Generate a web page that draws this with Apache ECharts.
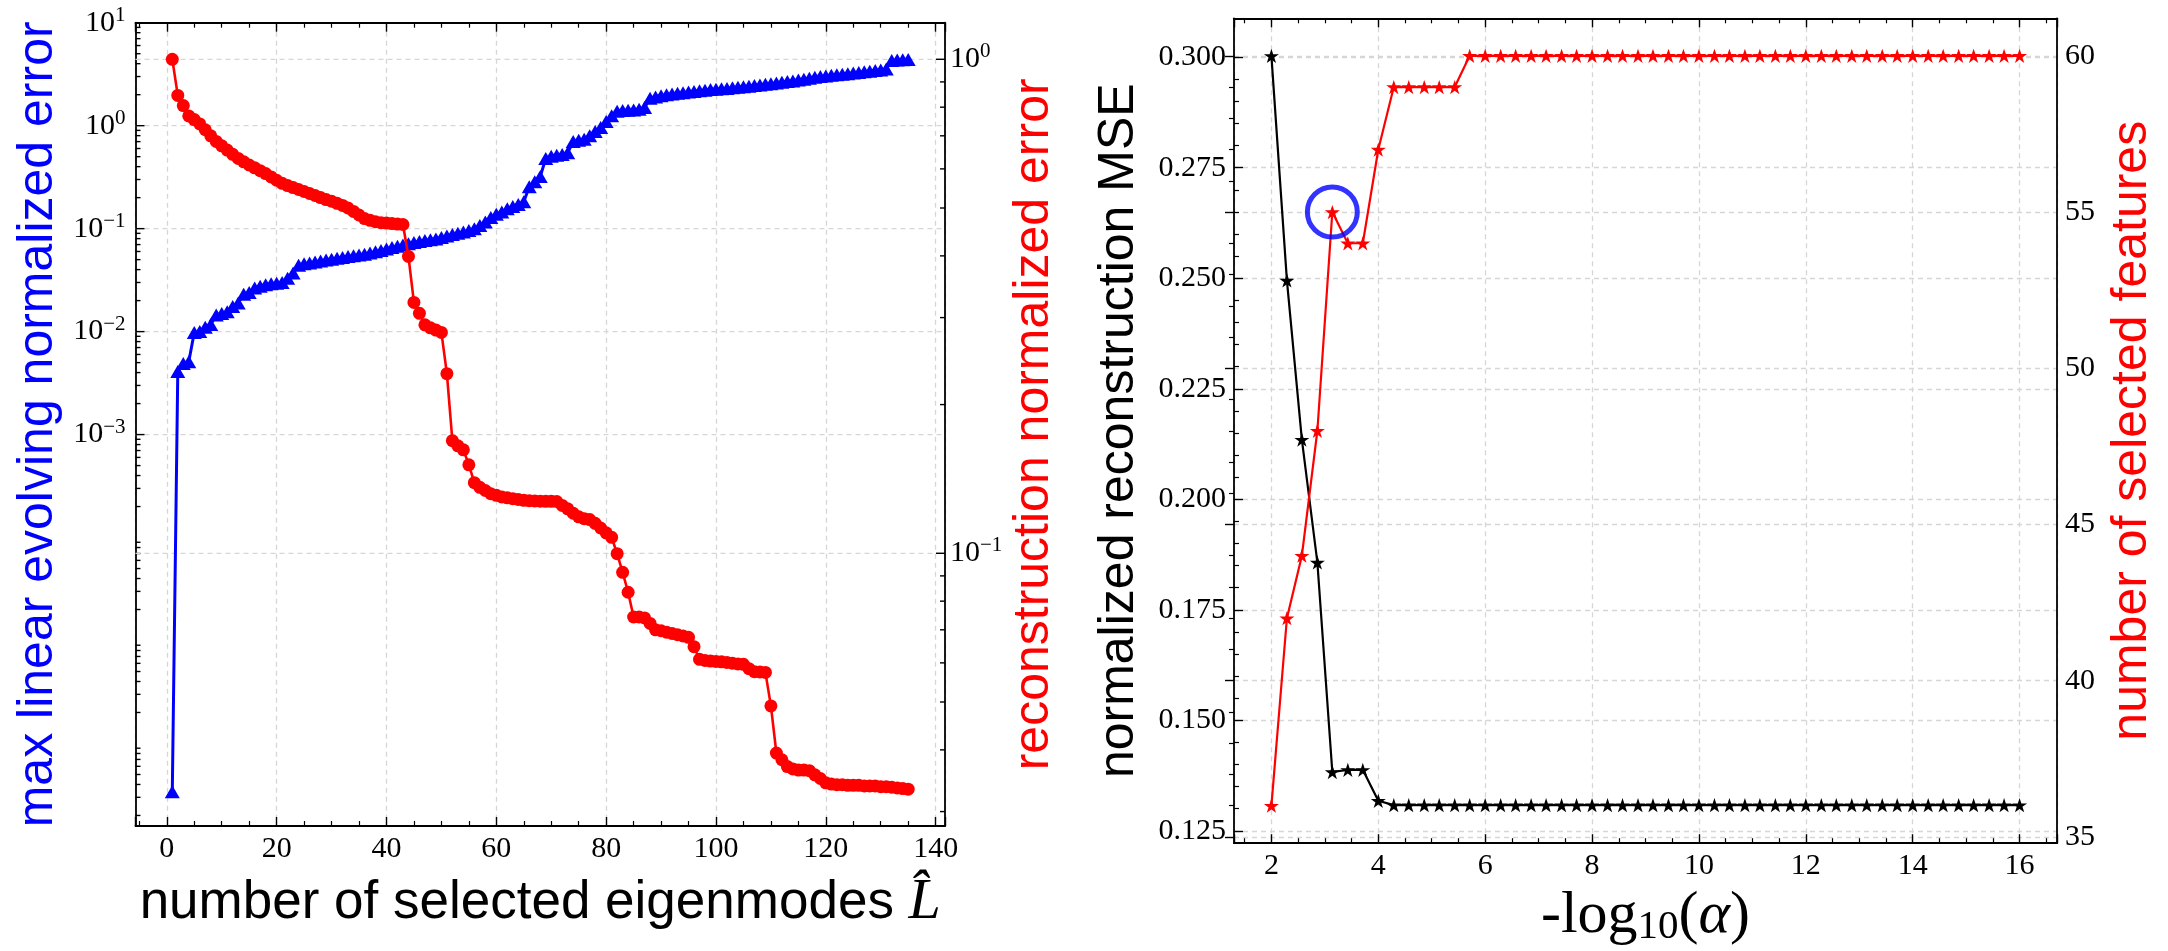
<!DOCTYPE html>
<html lang="en">
  <head>
    <meta charset="UTF-8" />
    <meta name="viewport" content="width=device-width, initial-scale=1.0" />
    <title>Eigenmode selection and feature selection</title>
    <!-- ECharts library -->
    <script src="https://cdn.jsdelivr.net/npm/echarts@6.0.0/dist/echarts.min.js"></script>
    <style>
      html, body { margin: 0; padding: 0; background: #fff; }
      #chart { width: 2168px; height: 951px; }
    </style>
  </head>
  <body>
    <div id="chart"></div>

    <script>
      // ---------- left panel: eigenmode selection ----------
      const modeCount = [
        1, 2, 3, 4, 5, 6, 7, 8, 9, 10, 11, 12, 13, 14, 15, 16, 17, 18, 19, 20,
        21, 22, 23, 24, 25, 26, 27, 28, 29, 30, 31, 32, 33, 34, 35, 36, 37, 38, 39, 40,
        41, 42, 43, 44, 45, 46, 47, 48, 49, 50, 51, 52, 53, 54, 55, 56, 57, 58, 59, 60,
        61, 62, 63, 64, 65, 66, 67, 68, 69, 70, 71, 72, 73, 74, 75, 76, 77, 78, 79, 80,
        81, 82, 83, 84, 85, 86, 87, 88, 89, 90, 91, 92, 93, 94, 95, 96, 97, 98, 99, 100,
        101, 102, 103, 104, 105, 106, 107, 108, 109, 110, 111, 112, 113, 114, 115, 116, 117, 118, 119, 120,
        121, 122, 123, 124, 125, 126, 127, 128, 129, 130, 131, 132, 133, 134, 135
      ];

      // max linear evolving normalized error (left log axis)
      const maxLinearError = [
        3.4e-7, 4.1e-3, 4.9e-3, 5.1e-3, 9.8e-3, 1.0e-2, 1.1e-2, 1.17e-2, 1.45e-2, 1.5e-2,
        1.56e-2, 1.75e-2, 1.9e-2, 2.3e-2, 2.4e-2, 2.65e-2, 2.75e-2, 2.85e-2, 2.92e-2, 2.95e-2,
        3.0e-2, 3.3e-2, 3.7e-2, 4.4e-2, 4.55e-2, 4.65e-2, 4.75e-2, 4.85e-2, 4.95e-2, 5.05e-2,
        5.15e-2, 5.25e-2, 5.35e-2, 5.45e-2, 5.55e-2, 5.65e-2, 5.8e-2, 5.95e-2, 6.15e-2, 6.35e-2,
        6.55e-2, 6.75e-2, 6.95e-2, 7.15e-2, 7.35e-2, 7.5e-2, 7.65e-2, 7.8e-2, 7.95e-2, 8.2e-2,
        8.5e-2, 8.75e-2, 9.0e-2, 9.3e-2, 9.6e-2, 0.100, 0.107, 0.116, 0.128, 0.138,
        0.145, 0.156, 0.164, 0.172, 0.182, 0.255, 0.285, 0.320, 0.480, 0.505,
        0.515, 0.525, 0.545, 0.700, 0.720, 0.740, 0.800, 0.880, 0.960, 1.10,
        1.25, 1.38, 1.40, 1.41, 1.42, 1.44, 1.50, 1.85, 1.90, 1.95,
        2.00, 2.03, 2.06, 2.09, 2.12, 2.15, 2.18, 2.21, 2.24, 2.26,
        2.28, 2.30, 2.33, 2.36, 2.39, 2.42, 2.45, 2.48, 2.52, 2.56,
        2.60, 2.64, 2.68, 2.72, 2.77, 2.82, 2.88, 2.95, 3.00, 3.04,
        3.08, 3.12, 3.16, 3.20, 3.24, 3.28, 3.33, 3.38, 3.43, 3.48,
        3.55, 4.30, 4.35, 4.37, 4.40
      ];

      // reconstruction normalized error (right log axis)
      const reconError = [
        1.000, 0.845, 0.806, 0.768, 0.755, 0.740, 0.720, 0.700, 0.682, 0.668,
        0.655, 0.642, 0.630, 0.620, 0.611, 0.603, 0.595, 0.587, 0.578, 0.569,
        0.561, 0.555, 0.550, 0.545, 0.540, 0.535, 0.530, 0.525, 0.520, 0.516,
        0.511, 0.506, 0.500, 0.492, 0.484, 0.476, 0.472, 0.469, 0.467, 0.466,
        0.465, 0.464, 0.463, 0.399, 0.322, 0.306, 0.290, 0.286, 0.283, 0.280,
        0.231, 0.169, 0.165, 0.162, 0.151, 0.139, 0.136, 0.134, 0.132, 0.131,
        0.130, 0.1295, 0.129, 0.1285, 0.128, 0.1278, 0.1276, 0.1275, 0.1274, 0.1274,
        0.1273, 0.1250, 0.1230, 0.1205, 0.1185, 0.1175, 0.1170, 0.1150, 0.1125, 0.1100,
        0.1077, 0.0998, 0.0915, 0.0834, 0.0743, 0.0743, 0.0740, 0.0721, 0.0700, 0.0697,
        0.0692, 0.0688, 0.0684, 0.0680, 0.0676, 0.0647, 0.0610, 0.0607, 0.0605, 0.0604,
        0.0603, 0.0601, 0.0599, 0.0597, 0.0596, 0.0584, 0.0576, 0.0575, 0.0574, 0.0491,
        0.0394, 0.0382, 0.0370, 0.0366, 0.0364, 0.0364, 0.0363, 0.0356, 0.0350, 0.0343,
        0.0341, 0.0340, 0.0340, 0.0339, 0.0339, 0.0339, 0.0338, 0.0338, 0.0338, 0.0337,
        0.0337, 0.0336, 0.0335, 0.0334, 0.0333
      ];

      // ---------- right panel: sparsity sweep ----------
      const negLogAlpha = [
        2.00, 2.29, 2.57, 2.86, 3.14, 3.43, 3.71, 4.00, 4.29, 4.57,
        4.86, 5.14, 5.43, 5.71, 6.00, 6.29, 6.57, 6.86, 7.14, 7.43,
        7.71, 8.00, 8.29, 8.57, 8.86, 9.14, 9.43, 9.71, 10.00, 10.29,
        10.57, 10.86, 11.14, 11.43, 11.71, 12.00, 12.29, 12.57, 12.86, 13.14,
        13.43, 13.71, 14.00, 14.29, 14.57, 14.86, 15.14, 15.43, 15.71, 16.00
      ];
      const reconMSE = [
        0.3003, 0.2495, 0.2135, 0.1857, 0.1383, 0.1388, 0.1388, 0.1318, 0.1308, 0.1308,
        0.1308, 0.1308, 0.1308, 0.1308, 0.1308, 0.1308, 0.1308, 0.1308, 0.1308, 0.1308,
        0.1308, 0.1308, 0.1308, 0.1308, 0.1308, 0.1308, 0.1308, 0.1308, 0.1308, 0.1308,
        0.1308, 0.1308, 0.1308, 0.1308, 0.1308, 0.1308, 0.1308, 0.1308, 0.1308, 0.1308,
        0.1308, 0.1308, 0.1308, 0.1308, 0.1308, 0.1308, 0.1308, 0.1308, 0.1308, 0.1308
      ];
      const selectedFeatures = [
        36, 42, 44, 48, 55, 54, 54, 57, 59, 59,
        59, 59, 59, 60, 60, 60, 60, 60, 60, 60,
        60, 60, 60, 60, 60, 60, 60, 60, 60, 60,
        60, 60, 60, 60, 60, 60, 60, 60, 60, 60,
        60, 60, 60, 60, 60, 60, 60, 60, 60, 60
      ];
      // the highlighted point (blue ring)
      const highlighted = [[3.14, 55]];

      // ---------- layout / style ----------
      const SERIF = '"Liberation Serif", "DejaVu Serif", serif';
      const SANS = '"Liberation Sans", "DejaVu Sans", sans-serif';
      const NAME_SIZE = 50;
      const TICK_SIZE = 30;
      const GRID_COLOR = '#d6d6d6';
      const BLUE = '#0000ff';
      const RED = '#ff0000';

      const LEFT = { left: 135.5, top: 22.7, width: 809.5, height: 803.3 };
      const RIGHT = { left: 1234, top: 18.3, width: 823, height: 824.9 };

      const LX = [-5.7, 141.7];          // left x range
      const LY1 = [1.58e-7, 10];         // left log axis
      const LY2 = [0.02805, 1.186];      // right log axis
      const RX = [1.3, 16.7];
      const RY1 = [0.1222, 0.3088];      // MSE
      const RY2 = [34.8, 61.2];          // number of features

      // sub-grid that covers [a, b] of an axis spanning [lo, hi] on the right panel
      function subGrid(lo, hi, a, b) {
        const k = RIGHT.height / (hi - lo);
        return {
          left: RIGHT.left, width: RIGHT.width,
          top: RIGHT.top + (hi - b) * k, height: (b - a) * k,
          containLabel: false, outerBoundsMode: 'none'
        };
      }

      // ticks on the log axes (minor at 2..9 per decade, majors only where labelled)
      function logTicks(xAt, range, majors) {
        const rows = [];
        const e0 = Math.floor(Math.log10(range[0]));
        const e1 = Math.ceil(Math.log10(range[1]));
        for (let e = e0; e <= e1; e++) {
          for (let k = 1; k <= 9; k++) {
            const v = k * Math.pow(10, e);
            if (v < range[0] || v > range[1]) continue;
            if (k === 1 && majors.indexOf(e) < 0) continue;
            rows.push([xAt, v, k === 1 ? 1 : 0]);
          }
        }
        return rows;
      }

      function spineTicks(side) {
        return function (params, api) {
          const v = api.value(1);
          const major = api.value(2) === 1;
          const a = api.coord([LX[0], v]);
          const b = api.coord([LX[1], v]);
          const x = side === 'left' ? a[0] : b[0];
          const dir = side === 'left' ? 1 : -1;
          const kids = [];
          const cs = params.coordSys;
          if (major && a[1] > cs.y + 1 && a[1] < cs.y + cs.height - 1) {
            kids.push({
              type: 'line',
              shape: { x1: a[0], y1: a[1], x2: b[0], y2: a[1] },
              style: { stroke: GRID_COLOR, lineWidth: 1.3, lineDash: [5, 4] }
            });
          }
          kids.push({
            type: 'line',
            shape: { x1: x, y1: a[1], x2: x + dir * (major ? 9 : 5), y2: a[1] },
            style: { stroke: '#000', lineWidth: 1.4 }
          });
          return { type: 'group', children: kids };
        };
      }

      function decadeLabel(shown) {
        return function (v) {
          const e = Math.log10(v);
          const r = Math.round(e);
          if (Math.abs(e - r) > 1e-6 || shown.indexOf(r) < 0) return '';
          return '{b|10}{e|' + (r < 0 ? '\u2212' + -r : r) + '}';
        };
      }
      const decadeRich = {
        b: { fontFamily: SERIF, fontSize: TICK_SIZE, color: '#000' },
        e: { fontFamily: SERIF, fontSize: 21, color: '#000', padding: [0, 0, 15, 0] }
      };

      const frameLine = { show: true, onZero: false, lineStyle: { color: '#000', width: 1.8 } };
      const tickIn = { show: true, inside: true, length: 9, lineStyle: { color: '#000', width: 1.4 } };
      const minorIn = (n) => ({ show: true, splitNumber: n, length: 5, lineStyle: { color: '#000', width: 1.2 } });
      const dashed = { show: true, lineStyle: { color: GRID_COLOR, width: 1.3, type: [5, 4] } };
      const tickFont = { fontFamily: SERIF, fontSize: TICK_SIZE, color: '#000' };
      const starPath = 'path://M0,-10L2.245,-3.09L9.511,-3.09L3.633,1.18L5.878,8.09L0,3.82L-5.878,8.09L-3.633,1.18L-9.511,-3.09L-2.245,-3.09Z';

      const chart = echarts.init(document.getElementById('chart'), null, { renderer: 'canvas' });

      const option = {
        animation: false,
        backgroundColor: '#fff',
        grid: [
          Object.assign({ containLabel: false, outerBoundsMode: 'none' }, LEFT),
          Object.assign({ containLabel: false, outerBoundsMode: 'none' }, RIGHT),
          subGrid(RY1[0], RY1[1], 0.125, 0.300),
          subGrid(RY2[0], RY2[1], 35, 60)
        ],
        xAxis: [
          {
            type: 'value', gridIndex: 0, position: 'bottom', min: LX[0], max: LX[1], splitNumber: 7,
            axisLine: frameLine, axisTick: tickIn, minorTick: minorIn(4), splitLine: dashed,
            axisLabel: Object.assign({ margin: 8, formatter: (v) => (Math.abs(v % 20) < 1e-9 ? String(v) : '') }, tickFont),
            name: 'number of selected eigenmodes {L|L\u0302}', nameLocation: 'middle', nameGap: 48,
            nameTextStyle: {
              fontFamily: SANS, fontSize: 53, color: '#000',
              rich: { L: { fontFamily: SERIF, fontStyle: 'italic', fontSize: 58, color: '#000' } }
            }
          },
          {
            type: 'value', gridIndex: 0, position: 'top', min: LX[0], max: LX[1], splitNumber: 7,
            axisLine: frameLine, axisTick: tickIn, minorTick: minorIn(4), splitLine: { show: false },
            axisLabel: { show: false }
          },
          {
            type: 'value', gridIndex: 1, position: 'bottom', min: RX[0], max: RX[1], splitNumber: 7,
            axisLine: frameLine, axisTick: tickIn, minorTick: minorIn(4), splitLine: dashed,
            axisLabel: Object.assign({ margin: 8, formatter: (v) => (Math.abs(v % 2) < 1e-9 ? String(v) : '') }, tickFont),
            name: '{t|-log}{s|10}{t|(}{a|\u03b1}{t|)}', nameLocation: 'middle', nameGap: 28,
            nameTextStyle: {
              rich: {
                t: { fontFamily: SERIF, fontSize: 60, color: '#000' },
                s: { fontFamily: SERIF, fontSize: 41, color: '#000', padding: [22, 0, 0, 0] },
                a: { fontFamily: SERIF, fontStyle: 'italic', fontSize: 60, color: '#000' }
              }
            }
          },
          {
            type: 'value', gridIndex: 1, position: 'top', min: RX[0], max: RX[1], splitNumber: 7,
            axisLine: frameLine, axisTick: tickIn, minorTick: minorIn(4), splitLine: { show: false },
            axisLabel: { show: false }
          },
          { type: 'value', gridIndex: 2, min: 0, max: 1, show: false },
          { type: 'value', gridIndex: 3, min: 0, max: 1, show: false }
        ],
        yAxis: [
          {
            type: 'log', logBase: 10, gridIndex: 0, position: 'left', min: LY1[0], max: LY1[1],
            axisLine: frameLine, axisTick: { show: false }, splitLine: { show: false },
            axisLabel: { margin: 10, formatter: decadeLabel([-3, -2, -1, 0, 1]), rich: decadeRich },
            name: 'max linear evolving normalized error', nameLocation: 'middle', nameRotate: 90, nameGap: 72,
            nameTextStyle: { fontFamily: SANS, fontSize: NAME_SIZE, color: BLUE }
          },
          {
            type: 'log', logBase: 10, gridIndex: 0, position: 'right', min: LY2[0], max: LY2[1],
            axisLine: frameLine, axisTick: { show: false }, splitLine: { show: false },
            axisLabel: { margin: 5, formatter: decadeLabel([-1, 0]), rich: decadeRich },
            name: 'reconstruction normalized error', nameLocation: 'middle', nameRotate: 90, nameGap: 64,
            nameTextStyle: { fontFamily: SANS, fontSize: NAME_SIZE, color: RED }
          },
          {
            type: 'value', gridIndex: 1, position: 'left', min: RY1[0], max: RY1[1],
            axisLine: frameLine, axisTick: { show: false }, splitLine: { show: false },
            axisLabel: { show: false },
            name: 'normalized reconstruction MSE', nameLocation: 'middle', nameRotate: 90, nameGap: 90,
            nameTextStyle: { fontFamily: SANS, fontSize: NAME_SIZE, color: '#000' }
          },
          {
            type: 'value', gridIndex: 1, position: 'right', min: RY2[0], max: RY2[1],
            axisLine: frameLine, axisTick: { show: false }, splitLine: { show: false },
            axisLabel: { show: false },
            name: 'number of selected features', nameLocation: 'middle', nameRotate: 90, nameGap: 50,
            nameTextStyle: { fontFamily: SANS, fontSize: NAME_SIZE, color: RED }
          },
          {
            type: 'value', gridIndex: 2, position: 'left', min: 0.125, max: 0.3, interval: 0.025,
            axisLine: { show: false }, axisTick: tickIn, minorTick: minorIn(5), splitLine: dashed,
            axisLabel: Object.assign({ margin: 8, formatter: (v) => v.toFixed(3) }, tickFont)
          },
          {
            type: 'value', gridIndex: 3, position: 'right', min: 35, max: 60, interval: 5,
            axisLine: { show: false }, axisTick: tickIn, minorTick: minorIn(5), splitLine: dashed,
            axisLabel: Object.assign({ margin: 8 }, tickFont)
          }
        ],
        series: [
          {
            type: 'custom', xAxisIndex: 0, yAxisIndex: 0, silent: true, z: 1,
            encode: { x: 0, y: 1 }, renderItem: spineTicks('left'),
            data: logTicks(LX[0], LY1, [-3, -2, -1, 0, 1])
          },
          {
            type: 'custom', xAxisIndex: 0, yAxisIndex: 1, silent: true, z: 1,
            encode: { x: 0, y: 1 }, renderItem: spineTicks('right'),
            data: logTicks(LX[1], LY2, [-1, 0])
          },
          {
            type: 'line', name: 'max linear evolving normalized error', xAxisIndex: 0, yAxisIndex: 0, z: 3,
            data: modeCount.map((m, i) => [m, maxLinearError[i]]),
            symbol: 'triangle', symbolSize: [15, 13], showAllSymbol: true,
            lineStyle: { color: BLUE, width: 3 }, itemStyle: { color: BLUE }
          },
          {
            type: 'line', name: 'reconstruction normalized error', xAxisIndex: 0, yAxisIndex: 1, z: 4,
            data: modeCount.map((m, i) => [m, reconError[i]]),
            symbol: 'circle', symbolSize: 13, showAllSymbol: true,
            lineStyle: { color: RED, width: 2.6 }, itemStyle: { color: RED }
          },
          {
            type: 'line', name: 'normalized reconstruction MSE', xAxisIndex: 2, yAxisIndex: 2, z: 3,
            data: negLogAlpha.map((x, i) => [x, reconMSE[i]]),
            symbol: starPath, symbolSize: 15, symbolKeepAspect: true, showAllSymbol: true,
            lineStyle: { color: '#000', width: 2.2 }, itemStyle: { color: '#000' }
          },
          {
            type: 'line', name: 'number of selected features', xAxisIndex: 2, yAxisIndex: 3, z: 4,
            data: negLogAlpha.map((x, i) => [x, selectedFeatures[i]]),
            symbol: starPath, symbolSize: 15, symbolKeepAspect: true, showAllSymbol: true,
            lineStyle: { color: RED, width: 2.2 }, itemStyle: { color: RED }
          },
          {
            type: 'scatter', xAxisIndex: 2, yAxisIndex: 3, z: 5, silent: true,
            data: highlighted, symbol: 'circle', symbolSize: 50,
            itemStyle: { color: 'rgba(0,0,0,0)', borderColor: BLUE, borderWidth: 5 }
          }
        ]
      };

      chart.setOption(option);
    </script>
  </body>
</html>
